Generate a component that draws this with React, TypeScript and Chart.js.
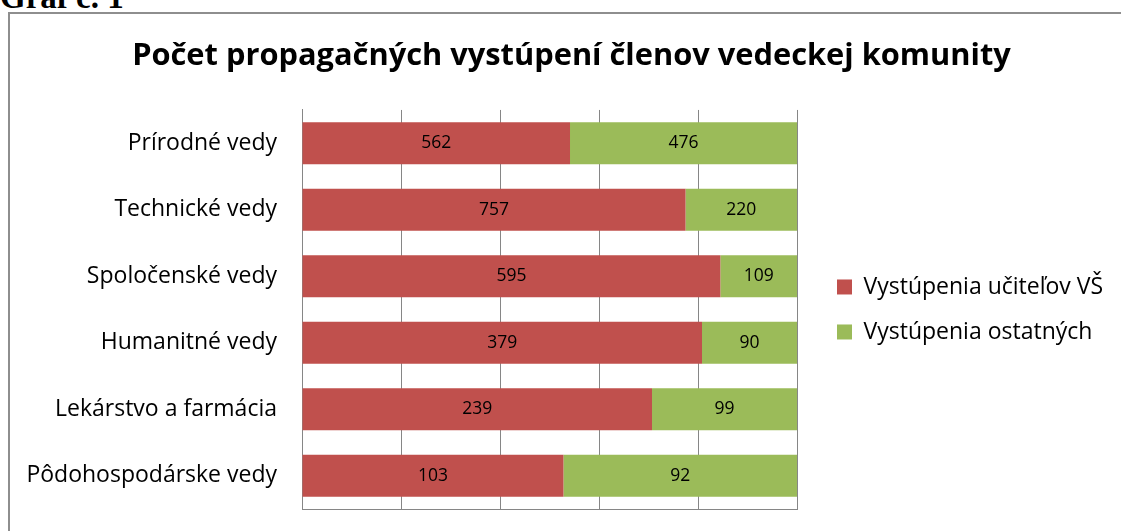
import React, { useEffect, useRef } from "react";
import { Chart, registerables } from "chart.js";

Chart.register(...registerables);

const categories = [
  "Prírodné vedy",
  "Technické vedy",
  "Spoločenské vedy",
  "Humanitné vedy",
  "Lekárstvo a farmácia",
  "Pôdohospodárske vedy",
];
const teachers = [562, 757, 595, 379, 239, 103];
const others = [476, 220, 109, 90, 99, 92];
const seriesNames = ["Vystúpenia učiteľov VŠ", "Vystúpenia ostatných"];
const xTicks = [0, 20, 40, 60, 80, 100];

const RED = "#C0504D";
const GREEN = "#9BBB59";
const GRID = "#868686";
const FONT = '"Open Sans"';

const totals = teachers.map((t, i) => t + others[i]);
const teacherPct = teachers.map((t, i) => (t / totals[i]) * 100);
const otherPct = others.map((o, i) => (o / totals[i]) * 100);
const rawValues = [teachers, others];

const CW = 1123;
const CH = 517;
const PLOT_LEFT = 292;
const PLOT_RIGHT = 787;
const LEGEND_SHIFT = 18;

const valueLabels = {
  id: "valueLabels",
  afterDatasetsDraw(chart: any) {
    const ctx = chart.ctx;
    ctx.save();
    ctx.font = `17.5px ${FONT}`;
    ctx.fillStyle = "#000";
    ctx.textAlign = "center";
    ctx.textBaseline = "middle";
    chart.data.datasets.forEach((_ds: any, i: number) => {
      const meta = chart.getDatasetMeta(i);
      meta.data.forEach((bar: any, j: number) => {
        const p = bar.getProps(["x", "y", "base"], true);
        ctx.fillText(String(rawValues[i][j]), (p.x + p.base) / 2, p.y);
      });
    });
    ctx.restore();
  },
};

const legendFix = {
  id: "legendFix",
  beforeLayout(chart: any) {
    const lg = chart.legend;
    if (lg && !lg.__patched) {
      const orig = lg.fit.bind(lg);
      lg.fit = function () {
        orig();
        this.width = CW - PLOT_RIGHT;
      };
      lg.__patched = true;
    }
  },
  afterLayout(chart: any) {
    const lg = chart.legend;
    if (lg) {
      lg.left += LEGEND_SHIFT;
      lg.width = lg.right - lg.left;
    }
  },
};

export default function App() {
  const ref = useRef<HTMLCanvasElement | null>(null);

  useEffect(() => {
    if (!ref.current) return;
    const chart = new Chart(ref.current, {
      type: "bar",
      data: {
        labels: categories,
        datasets: [
          {
            label: seriesNames[0],
            data: teacherPct,
            backgroundColor: RED,
            borderWidth: 0,
            categoryPercentage: 1,
            barPercentage: 0.63,
          },
          {
            label: seriesNames[1],
            data: otherPct,
            backgroundColor: GREEN,
            borderWidth: 0,
            categoryPercentage: 1,
            barPercentage: 0.63,
          },
        ],
      },
      options: {
        indexAxis: "y",
        responsive: false,
        animation: false,
        devicePixelRatio: 1,
        layout: { padding: 0 },
        font: { family: FONT },
        scales: {
          x: {
            type: "linear",
            stacked: true,
            min: 0,
            max: 100,
            afterBuildTicks: (axis: any) => {
              axis.ticks = xTicks.map((v) => ({ value: v }));
            },
            afterFit: (axis: any) => {
              axis.height = 22;
              axis.paddingLeft = 0;
              axis.paddingRight = 0;
            },
            ticks: { display: false },
            grid: { color: GRID, lineWidth: 1, drawTicks: false },
            border: { display: true, color: GRID, width: 1 },
          },
          y: {
            type: "category",
            stacked: true,
            afterFit: (axis: any) => {
              axis.width = PLOT_LEFT;
              axis.paddingTop = 0;
              axis.paddingBottom = 0;
            },
            ticks: {
              padding: 25,
              color: "#000",
              font: { family: FONT, size: 23 },
            },
            grid: { display: false, drawTicks: false },
            border: { display: true, color: GRID, width: 1 },
          },
        },
        plugins: {
          title: {
            display: true,
            text: "Počet propagačných vystúpení členov vedeckej komunity",
            color: "#000",
            font: { family: FONT, size: 30.8, weight: "bold", lineHeight: 1.2 },
            padding: { top: 24, bottom: 35 },
          },
          legend: {
            display: true,
            position: "right",
            fullSize: false,
            labels: {
              color: "#000",
              font: { family: FONT, size: 23 },
              boxWidth: 15,
              boxHeight: 15,
              padding: 22,
            },
          },
          tooltip: { enabled: false },
        },
      },
      plugins: [valueLabels, legendFix],
    } as any);
    return () => chart.destroy();
  }, []);

  return (
    <div
      style={{
        position: "absolute",
        left: 0,
        top: 0,
        width: 1121,
        height: 531,
        overflow: "hidden",
        background: "#fff",
      }}
    >
      <div
        style={{
          position: "absolute",
          left: 0,
          top: -19,
          fontFamily: '"Liberation Serif", serif',
          fontWeight: "bold",
          fontSize: 33,
          lineHeight: "32px",
          whiteSpace: "nowrap",
          color: "#000",
        }}
      >
        Graf č. 1
      </div>
      <div
        style={{
          position: "absolute",
          left: 8,
          top: 12,
          width: 1140,
          height: 560,
          border: "2px solid #8e8e8e",
          boxSizing: "border-box",
        }}
      />
      <canvas
        ref={ref}
        width={CW}
        height={CH}
        style={{ position: "absolute", left: 10, top: 14, width: CW, height: CH }}
      />
    </div>
  );
}
